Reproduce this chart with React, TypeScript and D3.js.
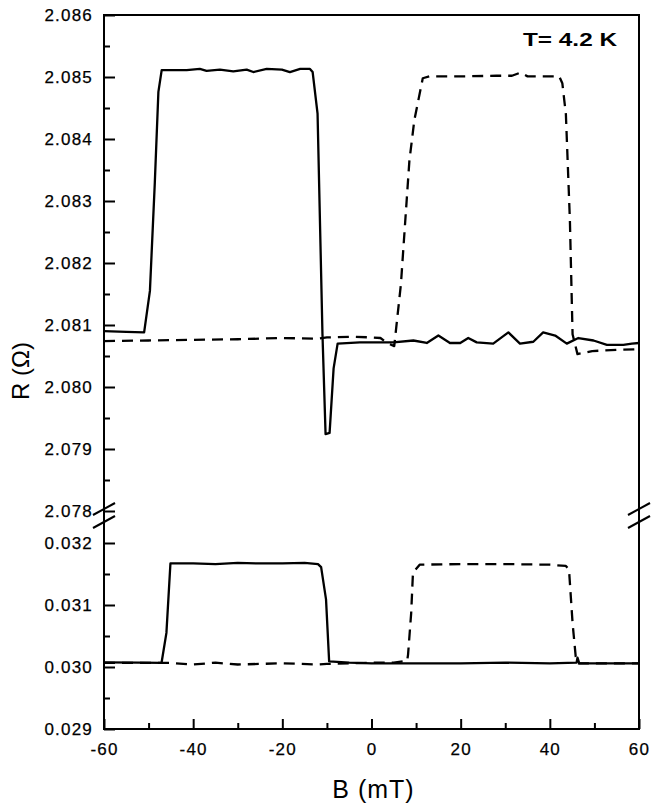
import * as d3 from "d3"
import { useEffect, useRef } from "react"

const WIDTH = 651
const HEIGHT = 808

// upper branch, solid sweep
const upperSolidB = [
  -60, -55, -51, -49.7, -48.6, -47.8, -47.06, -41.45, -38.5, -37.0, -34.0, -31.0,
  -28.0, -26.5, -23.5, -20.1, -18.3, -16.0, -13.8, -13.2, -12.1, -11.0, -10.3,
  -9.4, -8.5, -7.6, -2.6, 4.9, 9.4, 12.4, 15.0, 17.6, 19.9, 21.7, 23.6, 27.3,
  30.7, 33.3, 36.3, 38.5, 41.2, 43.8, 46.4, 49.8, 52.8, 56.5, 58.4, 60,
]
const upperSolidR = [
  2.0809, 2.08089, 2.08088, 2.08155, 2.0833, 2.08476, 2.08511, 2.08511, 2.08513,
  2.0851, 2.08512, 2.08509, 2.08512, 2.08508, 2.08513, 2.08512, 2.08508, 2.08513,
  2.08513, 2.08508, 2.08441, 2.08086, 2.07924, 2.07926, 2.0803, 2.0807, 2.08072,
  2.08072, 2.08075, 2.08071, 2.08083, 2.08071, 2.08071, 2.08079, 2.08072, 2.0807,
  2.08088, 2.0807, 2.08073, 2.08088, 2.08083, 2.0807, 2.08079, 2.08075, 2.08068,
  2.08068, 2.0807, 2.08071,
]

// upper branch, dashed sweep
const upperDashB = [
  -60, -50, -40, -30, -20, -12, -10, -5, 0, 2, 3.5, 5.1, 6.6, 8.5, 9.6, 11.5, 13.0,
  20, 28, 31.5, 33.4, 35, 42.1, 42.8, 43.6, 44.5, 45.1, 46.2, 49.5, 55, 60,
]
const upperDashR = [
  2.08074, 2.08075, 2.08076, 2.08077, 2.08079, 2.08078, 2.0808, 2.08081, 2.0808,
  2.08079, 2.08071, 2.08066, 2.08166, 2.08365, 2.0843, 2.08498, 2.08501, 2.08501,
  2.08502, 2.08502, 2.08507, 2.08501, 2.08501, 2.0849, 2.0844, 2.08269, 2.08085,
  2.08053, 2.08058, 2.0806, 2.08061,
]

// lower branch, solid sweep
const lowerSolidB = [
  -60, -52, -47.1, -46.0, -45.1, -40, -35, -30, -25, -20, -15, -12, -11.3, -10.2,
  -9.5, -5, 0, 10, 20, 30, 40, 46.0, 46.2, 46.6, 52, 60,
]
const lowerSolidR = [
  0.030074, 0.03007, 0.030065, 0.03055, 0.03167, 0.03167, 0.03166, 0.03168,
  0.03167, 0.03167, 0.03168, 0.03166, 0.03161, 0.03109, 0.03009, 0.03007, 0.03006,
  0.03006, 0.03006, 0.03007, 0.03006, 0.03007, 0.03015, 0.03006, 0.03006, 0.03006,
]

// lower branch, dashed sweep
const lowerDashB = [
  -60, -45, -40, -35, -30, -20, -12, -10, 0, 5, 8.0, 8.2, 8.9, 9.3, 10.8, 20, 30,
  40, 43.6, 44.3, 45.1, 45.8, 46.2, 60,
]
const lowerDashR = [
  0.030065, 0.030065, 0.03004, 0.03007, 0.03004, 0.03006, 0.03004, 0.03005,
  0.03007, 0.03007, 0.0301, 0.0302, 0.03087, 0.03152, 0.03165, 0.03166, 0.03166,
  0.03165, 0.03163, 0.03157, 0.03071, 0.03017, 0.03006, 0.03006,
]

const xMajor = [-60, -40, -20, 0, 20, 40, 60]
const xMinor = [-50, -30, -10, 10, 30, 50]
const upperMajor = [2.078, 2.079, 2.08, 2.081, 2.082, 2.083, 2.084, 2.085, 2.086]
const upperMinor = [2.0785, 2.0795, 2.0805, 2.0815, 2.0825, 2.0835, 2.0845, 2.0855]
const lowerMajor = [0.029, 0.03, 0.031, 0.032]
const lowerMinor = [0.0295, 0.0305, 0.0315]

const FONT = "'Liberation Sans', Arial, Helvetica, sans-serif"

const App = () => {
  const svgRef = useRef<SVGSVGElement>(null)

  useEffect(() => {
    if (!svgRef.current) return
    const svg = d3.select(svgRef.current)
    svg.selectAll("*").remove()

    const x = d3.scaleLinear().domain([-60, 60]).range([104, 639])
    const yTop = d3.scaleLinear().domain([2.078, 2.086]).range([511, 15])
    const yBot = d3.scaleLinear().domain([0.029, 0.032]).range([729, 543])
    const left = x.range()[0]
    const right = x.range()[1]
    const top = yTop.range()[1]
    const bottom = yBot.range()[0]

    const styleAxis = (g: d3.Selection<SVGGElement, unknown, null, undefined>) => {
      g.select(".domain").remove()
      g.selectAll(".tick line").attr("stroke", "#000").attr("stroke-width", 2)
      g.selectAll(".tick text")
        .attr("fill", "#000")
        .attr("stroke", "#000")
        .attr("stroke-width", 0.25)
        .attr("font-size", 17)
        .attr("font-family", FONT)
        .attr("letter-spacing", "1.2px")
    }

    // x axis (plain hyphen for negatives, as in the figure)
    svg
      .append("g")
      .attr("transform", `translate(0,${bottom})`)
      .call(d3.axisBottom(x).tickValues(xMajor).tickSize(-10).tickPadding(14).tickFormat((d) => String(d)))
      .call(styleAxis)
    svg
      .append("g")
      .attr("transform", `translate(0,${bottom})`)
      .call(d3.axisBottom(x).tickValues(xMinor).tickSize(-6).tickFormat(() => ""))
      .call(styleAxis)

    // y axis upper
    svg
      .append("g")
      .attr("transform", `translate(${left},0)`)
      .call(d3.axisLeft(yTop).tickValues(upperMajor).tickSize(-11).tickPadding(11).tickFormat(d3.format(".3f")))
      .call(styleAxis)
    svg
      .append("g")
      .attr("transform", `translate(${left},0)`)
      .call(d3.axisLeft(yTop).tickValues(upperMinor).tickSize(-6).tickFormat(() => ""))
      .call(styleAxis)

    // y axis lower
    svg
      .append("g")
      .attr("transform", `translate(${left},0)`)
      .call(d3.axisLeft(yBot).tickValues(lowerMajor).tickSize(-11).tickPadding(11).tickFormat(d3.format(".3f")))
      .call(styleAxis)
    svg
      .append("g")
      .attr("transform", `translate(${left},0)`)
      .call(d3.axisLeft(yBot).tickValues(lowerMinor).tickSize(-6).tickFormat(() => ""))
      .call(styleAxis)

    // frame
    svg
      .append("rect")
      .attr("x", left)
      .attr("y", top)
      .attr("width", right - left)
      .attr("height", bottom - top)
      .attr("fill", "none")
      .attr("stroke", "#000")
      .attr("stroke-width", 2)

    // axis break marks
    const breakY = [yTop(2.078) - 2, yTop(2.078) + 11]
    ;[left, right].forEach((bx) => {
      breakY.forEach((by) => {
        svg
          .append("line")
          .attr("x1", bx - 11)
          .attr("y1", by + 6)
          .attr("x2", bx + 11)
          .attr("y2", by - 6)
          .attr("stroke", "#000")
          .attr("stroke-width", 2)
      })
    })

    const series = [
      { b: upperDashB, r: upperDashR, y: yTop, dash: "11,7" },
      { b: upperSolidB, r: upperSolidR, y: yTop, dash: null },
      { b: lowerDashB, r: lowerDashR, y: yBot, dash: "11,7" },
      { b: lowerSolidB, r: lowerSolidR, y: yBot, dash: null },
    ]

    series.forEach((s) => {
      const pts = d3.zip(s.b, s.r) as [number, number][]
      svg
        .append("path")
        .datum(pts)
        .attr("fill", "none")
        .attr("stroke", "#000")
        .attr("stroke-width", 2.3)
        .attr("stroke-linejoin", "round")
        .attr("stroke-dasharray", s.dash)
        .attr(
          "d",
          d3
            .line<[number, number]>()
            .x((d) => x(d[0]))
            .y((d) => s.y(d[1])),
        )
    })

    // labels
    svg
      .append("text")
      .attr("x", (left + right) / 2 + 2)
      .attr("y", 798)
      .attr("text-anchor", "middle")
      .attr("font-family", FONT)
      .attr("font-size", 25)
      .attr("letter-spacing", "1px")
      .text("B (mT)")

    svg
      .append("text")
      .attr("transform", `translate(29,371) rotate(-90)`)
      .attr("text-anchor", "middle")
      .attr("font-family", FONT)
      .attr("font-size", 24)
      .text("R (Ω)")

    svg
      .append("text")
      .attr("x", 523)
      .attr("y", 46)
      .attr("font-family", FONT)
      .attr("font-size", 18)
      .attr("font-weight", "bold")
      .attr("textLength", 94)
      .attr("lengthAdjust", "spacingAndGlyphs")
      .text("T= 4.2 K")
  }, [])

  return (
    <div style={{ position: "absolute", left: 0, top: 0 }}>
      <svg ref={svgRef} width={WIDTH} height={HEIGHT} style={{ display: "block", background: "#fff" }} />
    </div>
  )
}

export default App
